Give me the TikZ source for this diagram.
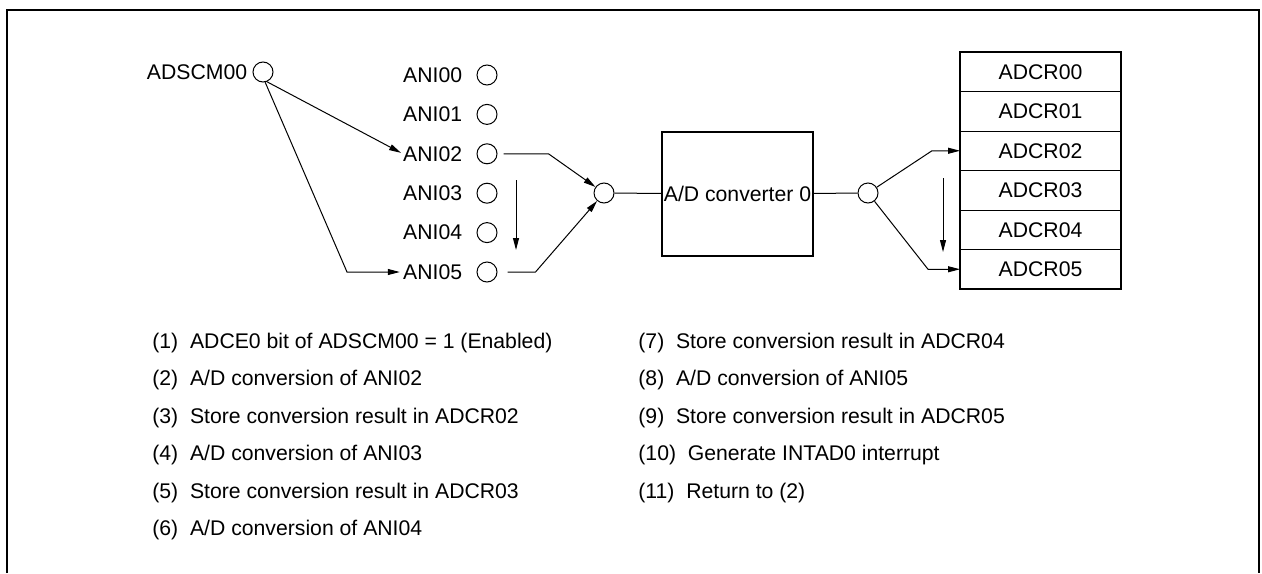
\documentclass[tikz,border=0pt]{standalone}
\usepackage{fontspec}
\setmainfont{Liberation Sans}
\usetikzlibrary{arrows.meta, positioning}

\begin{document}
\begin{tikzpicture}[
  x=0.5pt, y=-0.5pt,
  font=\fontsize{10.6}{12}\selectfont,
  port/.style={draw, circle, line width=0.5pt, minimum size=10pt, inner sep=0pt},
  lbl/.style={inner sep=0pt},
  conv/.style={draw, line width=1pt, minimum width=75.5pt, minimum height=62pt,
               inner sep=0pt},
  reg/.style={draw, line width=0.5pt, minimum width=80.5pt, minimum height=19.75pt,
              inner sep=0pt, outer sep=0pt},
  wire/.style={line width=0.5pt},
  arr/.style={wire, -{Triangle[length=6pt, width=3pt]}},
  item/.style={anchor=west, inner sep=0pt}]

  \useasboundingbox (0,0) rectangle (1262,573);

  % frame, open at the bottom
  \draw[line width=1pt] (7,573) -- (7,10) -- (1259,10) -- (1259,573);

  % scan mode register
  \node[port] (adscm) at (263,72) {};
  \node[lbl, left=2.5pt of adscm] (adscmlbl) {ADSCM00};

  % analog inputs
  \foreach \i in {0,...,5}{
    \node[port] (ani\i) at (487,75+39.4*\i) {};
    \node[lbl, left=7pt of ani\i] (anilbl\i) {ANI0\i};
  }

  % converter
  \node[port] (mux) at (604,193) {};
  \node[conv] (adc) at (737.5,194) {A/D converter 0};
  \node[port] (demux) at (868,193) {};

  % result registers
  \node[reg] (adcr0) at (1040.5,71.75) {ADCR00};
  \foreach \i [evaluate=\i as \j using int(\i-1)] in {1,...,5}
    \node[reg, below=0pt of adcr\j] (adcr\i) {ADCR0\i};
  \draw[line width=1pt] (adcr0.north west) rectangle (adcr5.south east);

  % bends and scan direction
  \coordinate (b5) at (347,272);
  \coordinate (k2) at ([xshift=25.5pt]ani2.east);
  \coordinate (k5) at ([xshift=19pt]ani5.east);
  \coordinate (r2) at ([xshift=-14pt]adcr2.west);
  \coordinate (r5) at ([xshift=-16pt]adcr5.west);
  \coordinate (s0) at (516,180);
  \coordinate (s1) at (516,250);
  \coordinate (t0) at (943,178);
  \coordinate (t1) at (943,252);

  % flows
  \draw[arr, shorten >=1pt] (adscm.-68) -- (anilbl2.west);
  \draw[arr, shorten >=1.5pt] (adscm.-78) -- (b5) -- (anilbl5.west);
  \draw[arr] (s0) -- (s1);
  \draw[arr, shorten <=3pt] (ani2.east) -- (k2) -- (mux);
  \draw[arr, shorten <=5pt] (ani5.east) -- (k5) -- (mux);
  \draw[wire] (mux) -- (adc);
  \draw[wire] (adc) -- (demux);
  \draw[arr] (demux) -- (r2) -- (adcr2.west);
  \draw[arr] (demux) -- (r5) -- (adcr5.west);
  \draw[arr] (t0) -- (t1);

  % sequence
  \node[item] (step1) at (152,343) {(1)\ \ ADCE0 bit of ADSCM00 = 1 (Enabled)};
  \node[item] (step2) at (152,380.4) {(2)\ \ A/D conversion of ANI02};
  \node[item] (step3) at (152,417.8) {(3)\ \ Store conversion result in ADCR02};
  \node[item] (step4) at (152,455.2) {(4)\ \ A/D conversion of ANI03};
  \node[item] (step5) at (152,492.6) {(5)\ \ Store conversion result in ADCR03};
  \node[item] (step6) at (152,530) {(6)\ \ A/D conversion of ANI04};
  \node[item] (step7) at (638,343) {(7)\ \ Store conversion result in ADCR04};
  \node[item] (step8) at (638,380.4) {(8)\ \ A/D conversion of ANI05};
  \node[item] (step9) at (638,417.8) {(9)\ \ Store conversion result in ADCR05};
  \node[item] (step10) at (638,455.2) {(10)\ \ Generate INTAD0 interrupt};
  \node[item] (step11) at (638,492.6) {(11)\ \ Return to (2)};
\end{tikzpicture}
\end{document}
